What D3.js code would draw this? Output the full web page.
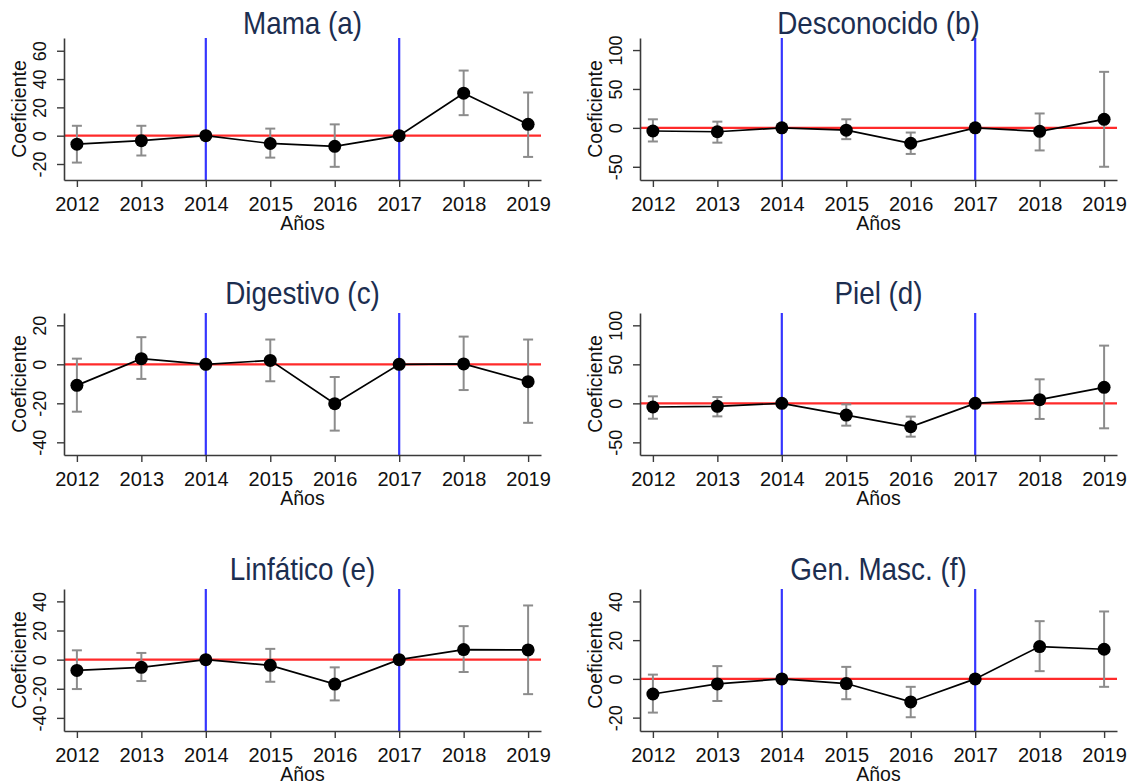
<!DOCTYPE html>
<html>
<head>
<meta charset="utf-8">
<script src="https://cdn.jsdelivr.net/npm/d3@7"></script>
<style>
  body { margin: 0; background: #fff; }
  svg { display: block; font-family: "Liberation Sans", Arial, sans-serif; }
</style>
</head>
<body>
<svg width="1132" height="784"></svg>
<script>
// data
var years = [2012, 2013, 2014, 2015, 2016, 2017, 2018, 2019];
var titles = ["Mama (a)", "Desconocido (b)", "Digestivo (c)", "Piel (d)", "Linfático (e)", "Gen. Masc. (f)"];

var coefA = [-6, -3.5, 0, -5.5, -7.5, 0, 30, 8];
var lowA  = [-19, -14, null, -15.5, -22, null, 14.5, -15];
var highA = [7, 7, null, 5, 8, null, 46, 30.5];

var coefB = [-4, -5, 0, -3, -19.8, 0, -4.5, 11];
var lowB  = [-17.5, -19, null, -14.5, -33.5, null, -29, -50];
var highB = [11, 8, null, 11, -6, null, 18.5, 72];

var coefC = [-10.8, 2.9, 0, 2, -20.2, 0, 0.2, -8.9];
var lowC  = [-24.3, -7.5, null, -8.7, -34, null, -13.2, -30];
var highC = [2.9, 13.9, null, 12.7, -6.5, null, 14.2, 12.7];

var coefD = [-4.7, -3.8, 0, -15, -30, 0, 4.7, 20.5];
var lowD  = [-19.7, -16.7, null, -28.6, -42.7, null, -20, -32];
var highD = [9, 8.1, null, -1.3, -17, null, 30.8, 74];

var coefE = [-7.4, -5.3, 0, -3.9, -16.8, 0, 6.9, 6.7];
var lowE  = [-20.2, -14.7, null, -15.2, -28, null, -8.5, -23.7];
var highE = [6.4, 4.6, null, 7.4, -5.3, null, 23, 37.2];

var coefF = [-7.8, -2.6, 0, -2.4, -11.9, 0, 16.7, 15.3];
var lowF  = [-17.4, -11.4, null, -10.5, -19.8, null, 4, -4.1];
var highF = [2.2, 6.6, null, 6.2, -4.1, null, 29.8, 34.8];

var yTicks = [[-20, 0, 20, 40, 60], [-50, 0, 50, 100], [-40, -20, 0, 20],
              [-50, 0, 50, 100], [-40, -20, 0, 20, 40], [-20, 0, 20, 40]];
var yRanges = [[-31.3, 69], [-67, 115.5], [-46.5, 26.3],
               [-66.2, 115.8], [-49, 48.5], [-26.9, 46.4]];
var breakYears = [2014, 2017];

var coefs = [coefA, coefB, coefC, coefD, coefE, coefF],
    lows = [lowA, lowB, lowC, lowD, lowE, lowF],
    highs = [highA, highB, highC, highD, highE, highF];

// layout
var svg = d3.select("svg"),
    colLeft = [64, 640],
    rowTop = [38, 313, 589],
    titleBase = [33.5, 303.5, 579.5],
    pw = 477,
    ph = 142;

var x = d3.scaleLinear().domain([2011.8, 2019.2]).range([0, pw]);

titles.forEach(function (title, i) {
    var col = i % 2, row = Math.floor(i / 2);
    var g = svg.append("g")
        .attr("transform", "translate(" + colLeft[col] + "," + rowTop[row] + ")");

    var y = d3.scaleLinear().domain(yRanges[i]).range([ph, 0]);

    var pts = years.map(function (yr, k) {
        return { year: yr, c: coefs[i][k], lo: lows[i][k], hi: highs[i][k] };
    });

    // red zero line
    g.append("line")
        .attr("x1", 0).attr("x2", pw)
        .attr("y1", y(0)).attr("y2", y(0))
        .attr("stroke", "#ff2a2a")
        .attr("stroke-width", 2.2);

    // blue reference lines
    g.selectAll(".vline")
        .data(breakYears)
        .enter().append("line")
        .attr("class", "vline")
        .attr("x1", function (d) { return x(d); })
        .attr("x2", function (d) { return x(d); })
        .attr("y1", 0).attr("y2", ph)
        .attr("stroke", "#3535ff")
        .attr("stroke-width", 2.2);

    // error bars
    var eb = g.selectAll(".eb")
        .data(pts.filter(function (d) { return d.lo !== null; }))
        .enter().append("g")
        .attr("class", "eb")
        .attr("stroke", "#8c8c8c")
        .attr("stroke-width", 2)
        .attr("fill", "none");
    eb.append("line")
        .attr("x1", function (d) { return x(d.year); })
        .attr("x2", function (d) { return x(d.year); })
        .attr("y1", function (d) { return y(d.lo); })
        .attr("y2", function (d) { return y(d.hi); });
    eb.append("line")
        .attr("x1", function (d) { return x(d.year) - 5; })
        .attr("x2", function (d) { return x(d.year) + 5; })
        .attr("y1", function (d) { return y(d.lo); })
        .attr("y2", function (d) { return y(d.lo); });
    eb.append("line")
        .attr("x1", function (d) { return x(d.year) - 5; })
        .attr("x2", function (d) { return x(d.year) + 5; })
        .attr("y1", function (d) { return y(d.hi); })
        .attr("y2", function (d) { return y(d.hi); });

    // connecting line + markers
    g.append("path")
        .datum(pts)
        .attr("fill", "none")
        .attr("stroke", "#000")
        .attr("stroke-width", 1.7)
        .attr("d", d3.line()
            .x(function (d) { return x(d.year); })
            .y(function (d) { return y(d.c); }));

    g.selectAll(".pt")
        .data(pts)
        .enter().append("circle")
        .attr("class", "pt")
        .attr("cx", function (d) { return x(d.year); })
        .attr("cy", function (d) { return y(d.c); })
        .attr("r", 6.5)
        .attr("fill", "#000");

    // axes
    var ax = g.append("g")
        .attr("transform", "translate(0," + ph + ")")
        .call(d3.axisBottom(x).tickValues(years).tickFormat(d3.format("d")).tickSize(7).tickSizeOuter(0));
    ax.selectAll("text")
        .attr("y", 30.5).attr("dy", 0)
        .attr("font-size", 20)
        .attr("font-family", "Liberation Sans, Arial, sans-serif")
        .attr("fill", "#111");

    var ay = g.append("g")
        .call(d3.axisLeft(y).tickValues(yTicks[i]).tickFormat(function (d) { return String(d); }).tickSize(7).tickSizeOuter(0));
    ay.selectAll("text")
        .attr("transform", "rotate(-90)")
        .attr("x", 0).attr("y", -18.5).attr("dy", 0)
        .attr("text-anchor", "middle")
        .attr("font-size", 18)
        .attr("font-family", "Liberation Sans, Arial, sans-serif")
        .attr("fill", "#111");

    [ax, ay].forEach(function (a) {
        a.select(".domain").attr("stroke", "#3a3a3a").attr("stroke-width", 1.6);
        a.selectAll(".tick line").attr("stroke", "#3a3a3a").attr("stroke-width", 1.4);
    });

    // labels
    g.append("text")
        .attr("transform", "translate(-38.5," + (ph / 2) + ") rotate(-90)")
        .attr("text-anchor", "middle")
        .attr("font-size", 19.5)
        .attr("fill", "#111")
        .text("Coeficiente");

    g.append("text")
        .attr("x", pw / 2)
        .attr("y", ph + 50)
        .attr("text-anchor", "middle")
        .attr("font-size", 19.5)
        .attr("fill", "#111")
        .text("Años");

    g.append("text")
        .attr("transform", "translate(" + (pw / 2) + "," + (titleBase[row] - rowTop[row]) + ") scale(0.87,1)")
        .attr("text-anchor", "middle")
        .attr("font-size", 32)
        .attr("fill", "#1c2e50")
        .text(title);
});
</script>
</body>
</html>
